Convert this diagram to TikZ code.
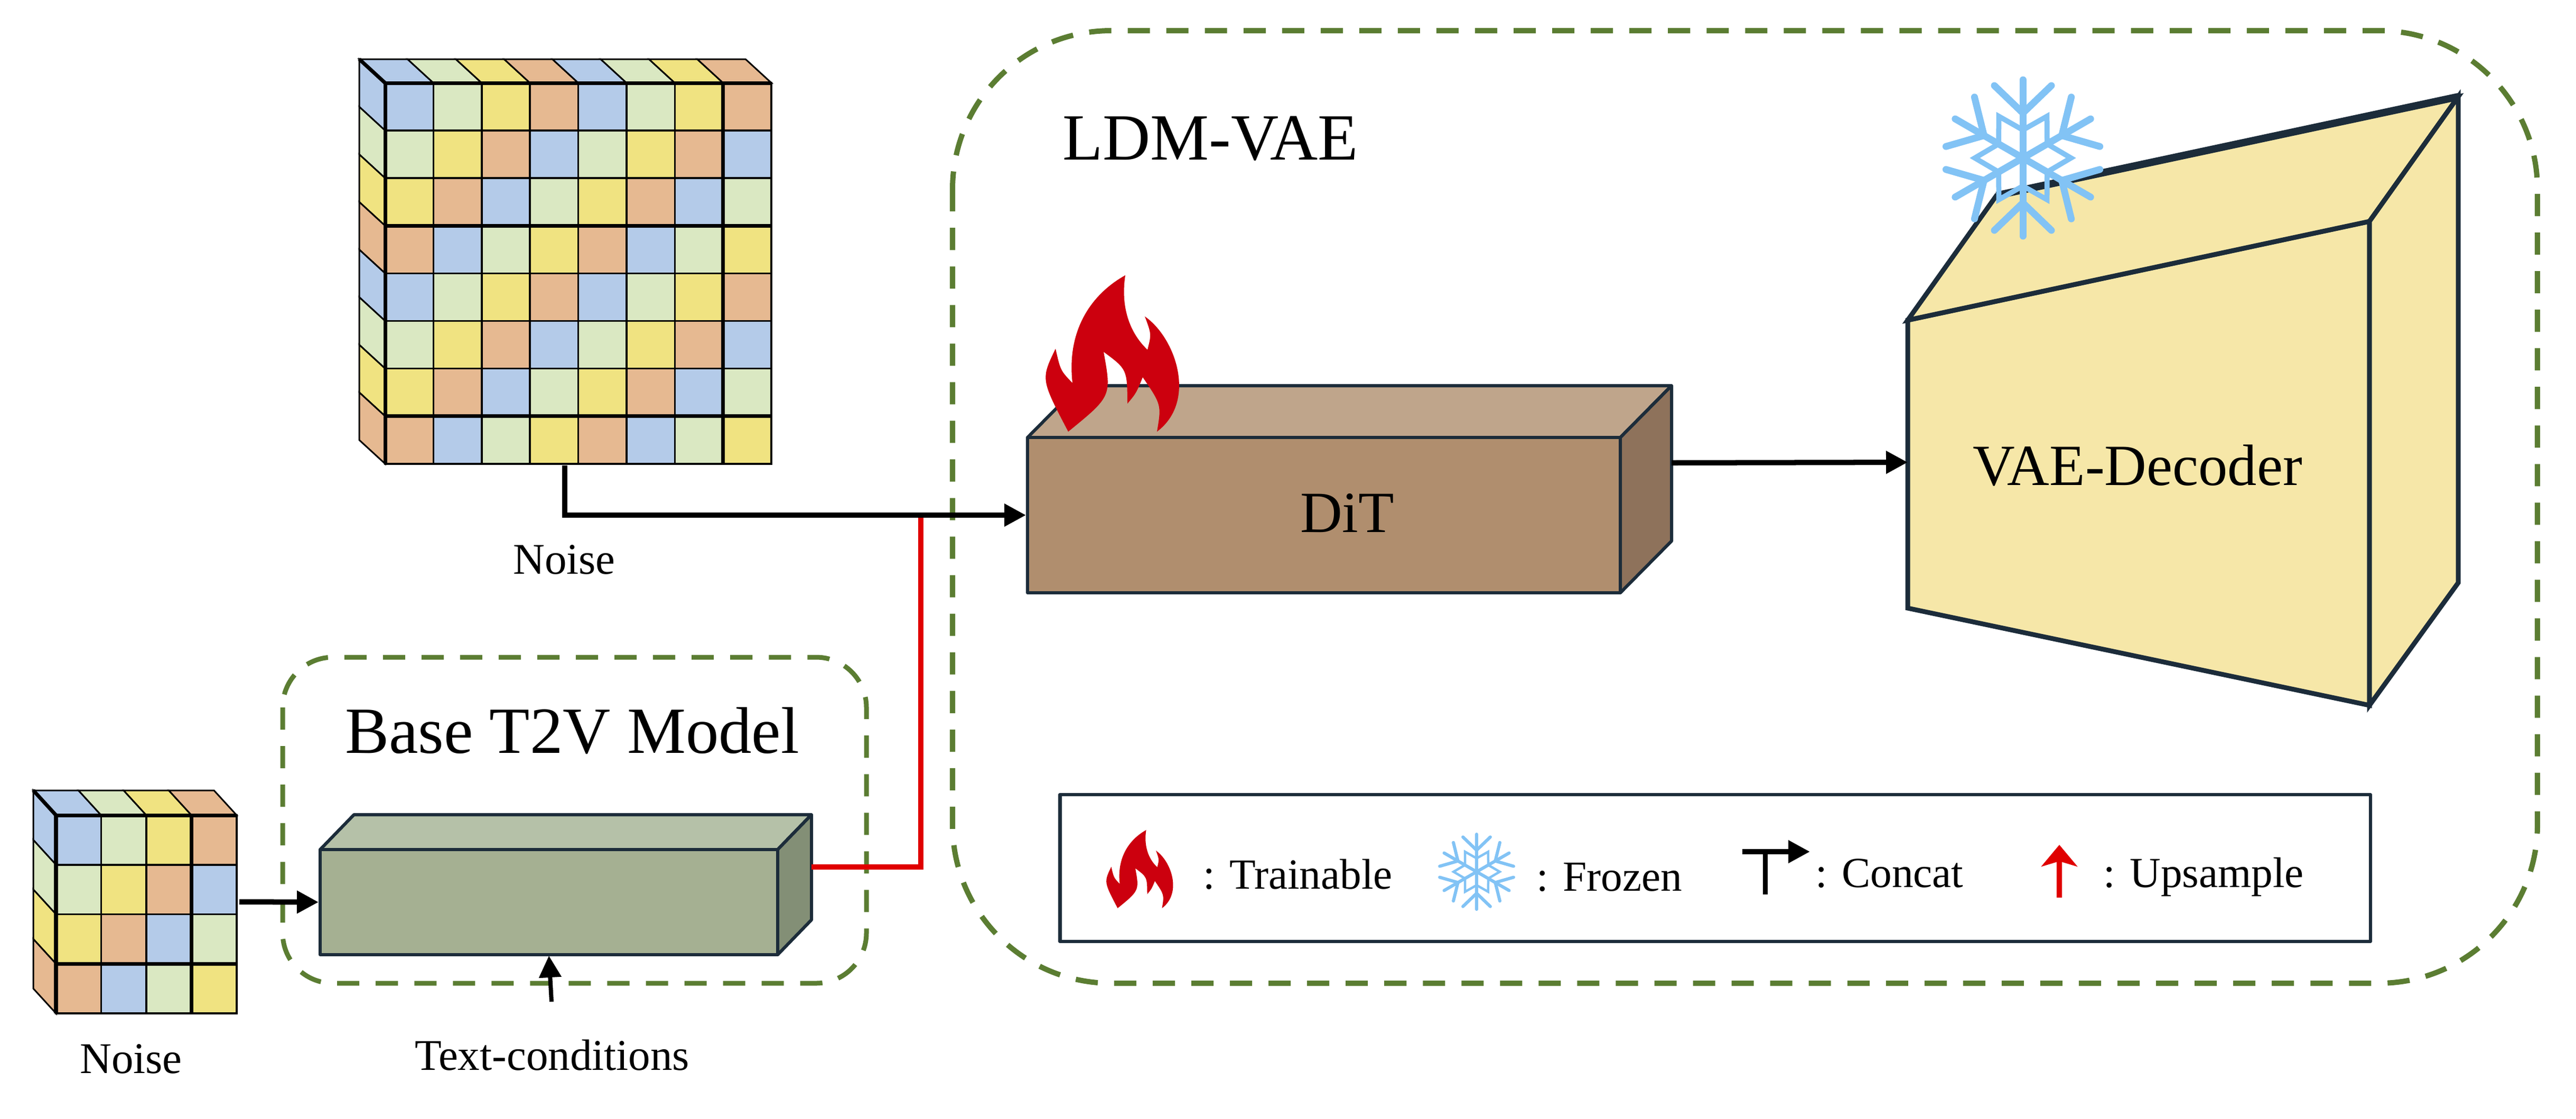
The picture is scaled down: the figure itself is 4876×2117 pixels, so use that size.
\documentclass[tikz,border=0pt]{standalone}
\usepackage{fontspec}
\setmainfont{Liberation Serif}
\usetikzlibrary{arrows.meta}
\definecolor{cellA}{HTML}{B4CBE9}
\definecolor{cellB}{HTML}{DAE8C2}
\definecolor{cellC}{HTML}{F0E381}
\definecolor{cellD}{HTML}{E6B991}
\definecolor{ditF}{HTML}{B08E6E}
\definecolor{ditT}{HTML}{BFA58B}
\definecolor{ditS}{HTML}{8E725B}
\definecolor{baseF}{HTML}{A5B092}
\definecolor{baseT}{HTML}{B5C1A8}
\definecolor{baseS}{HTML}{838F76}
\definecolor{vaeF}{HTML}{F6E7A8}
\definecolor{edgeC}{HTML}{1C2C3A}
\definecolor{dashC}{HTML}{5B7D32}
\definecolor{flameC}{HTML}{CC000E}
\definecolor{snowC}{HTML}{82C3F5}
\definecolor{redC}{HTML}{E00000}
\tikzset{x=0.01cm,y=-0.01cm,
	 group/.style={draw=dashC,line width=0.1cm,dash pattern=on 0.42cm off 0.31cm},
	 edge3d/.style={draw=edgeC,line width=0.06cm,line join=round},
	 vaeface/.style={draw=edgeC,line width=0.09cm,line join=miter,fill=vaeF},
	 conn/.style={black,line width=0.1cm,-{Triangle[length=0.41cm,width=0.41cm]}},
	 upconn/.style={redC,line width=0.1cm},
	 hugelbl/.style={font=\fontsize{35.5}{40}\selectfont,anchor=base,inner sep=0pt},
	 biglbl/.style={font=\fontsize{31.4}{36}\selectfont,anchor=base,inner sep=0pt},
	 smalllbl/.style={font=\fontsize{23.6}{28}\selectfont,anchor=base,inner sep=0pt},
	 leglbl/.style={font=\fontsize{23.1}{28}\selectfont,anchor=base west,inner sep=0pt},
	 flame/.pic={
		\fill[flameC] (-85,148) .. controls (-137,48.8) .. (-109,-9)
			.. controls (-99.7,32.2) .. (-77,56)
			.. controls (-88,-40) and (-45,-110) .. (23,-148)
			.. controls (14,-90) and (30,-40) .. (65,-7)
			.. controls (72.5,-36.5) .. (60,-70)
			.. controls (118,-30) and (160,90) .. (83,148)
			.. controls (91.5,97.2) .. (56,45)
			.. controls (43.5,75.3) .. (27,95)
			.. controls (26.5,30) .. (-18,-3)
			.. controls (-2.8,81) .. (-85,148) -- cycle;
	 },
	 snowflake/.pic={
		\foreach \a in {30,90,...,330} {
			\begin{scope}[rotate=\a,snowC,line width=#1,line cap=round]
				\draw (0,0) -- (148,0);
				\draw (85,0) -- (137,54);
				\draw (85,0) -- (137,-54);
				\draw[line cap=butt,line join=miter,line width=0.75*#1] (0:53) -- (30:91) -- (60:53);
			\end{scope}
		}
	 }
	 }
% colored grid with its depth faces: name, left, top, cell w, cell h, cells, depth x, depth y
\newcommand{\noisecube}[8]{
	\foreach \r in {1,...,#6} {
		\pgfmathtruncatemacro{\m}{mod(\r-1,4)}
		\ifcase\m \def\cc{cellA}\or \def\cc{cellB}\or \def\cc{cellC}\or \def\cc{cellD}\fi
		\pgfmathsetmacro{\yy}{#3+(\r-1)*#5}
		\draw[fill=\cc,line width=0.03cm] (#2,\yy) -- ++(#7,#8) -- ++(0,#5) -- ++(-#7,-#8) -- cycle;
		\pgfmathsetmacro{\xx}{#2+(\r-1)*#4}
		\draw[fill=\cc,line width=0.03cm] (\xx,#3) -- ++(#7,#8) -- ++(#4,0) -- ++(-#7,-#8) -- cycle;
		\foreach \c in {1,...,#6} {
			\pgfmathtruncatemacro{\m}{mod(\r+\c-2,4)}
			\ifcase\m \def\cc{cellA}\or \def\cc{cellB}\or \def\cc{cellC}\or \def\cc{cellD}\fi
			\pgfmathsetmacro{\xx}{#2+(\c-1)*#4}
			\draw[fill=\cc,line width=0.035cm] (\xx,\yy) rectangle ++(#4,#5);
		}
	}
	\foreach \r in {0,...,#6} {
		\pgfmathtruncatemacro{\m}{mod(\r,4)}
		\ifnum\r=0 \def\m{3}\fi
		\ifnum\r=#6 \def\m{0}\fi
		\ifnum\m=3 \draw[line width=0.07cm] (#2,#3+\r*#5) -- ++(#6*#4,0); \fi
	}
	\draw[line width=0.07cm] (#2,#3) -- ++(0,#6*#5);
	\draw[line width=0.07cm] (#2+#6*#4-#4,#3) -- ++(0,#6*#5);
	\draw[line width=0.07cm] (#2,#3) -- ++(#7,#8);
	\node[inner sep=0pt,minimum width={#6*#4*0.01cm},minimum height={#6*#5*0.01cm}] (#1) at (#2+#6*#4/2,#3+#6*#5/2) {};
}
% box with front node: name, left, top, right, bottom, depth x, depth y, color prefix
\newcommand{\cuboid}[8]{
	\draw[edge3d,fill=#8T] (#2,#3) -- ++(#6,-#7) -- (#4+#6,#3-#7) -- (#4,#3) -- cycle;
	\draw[edge3d,fill=#8S] (#4,#3) -- (#4+#6,#3-#7) -- (#4+#6,#5-#7) -- (#4,#5) -- cycle;
	\node[edge3d,fill=#8F,inner sep=0pt,minimum width={(#4-#2)*0.01cm},minimum height={(#5-#3)*0.01cm}] (#1) at ({(#2+#4)/2},{(#3+#5)/2}) {};
}
\begin{document}
\begin{tikzpicture} % noise through base model and DiT into the VAE decoder
	\useasboundingbox (0,0) rectangle (4876,2117);
	\draw[group,rounded corners=3cm] (1803,58) rectangle (4803,1861);
	\draw[group,line width=0.09cm,rounded corners=0.95cm] (535,1244) rectangle (1640,1861);
	\node[hugelbl] (ldmlbl) at (2291,302) {LDM-VAE};
	\node[hugelbl] (baselbl) at (1083,1425) {Base T2V Model};

	\noisecube{noiseA}{729}{157}{91.4}{90.1}{8}{-49}{-45}
	\noisecube{noiseB}{106}{1543}{85.5}{93.75}{4}{-43}{-47}
	\node[smalllbl] (noiseAlbl) at (1068,1086) {Noise};
	\node[smalllbl] (noiseBlbl) at (248,2031) {Noise};

	\cuboid{base}{606}{1608}{1472}{1807}{64}{66}{base}
	\cuboid{dit}{1945}{828}{3067}{1122}{97}{98}{dit}
	\node[biglbl] (ditlbl) at (2550,1007) {DiT};

	% decoder faces
	\coordinate (vaeA) at (3611,606);
	\coordinate (vaeB) at (4485,419);
	\coordinate (vaeC) at (4485,1335);
	\coordinate (vaeD) at (3611,1151);
	\coordinate (vaeE) at (3779,370);
	\coordinate (vaeF) at (4653,183);
	\coordinate (vaeG) at (4653,1103);
	\draw[vaeface] (vaeA) -- (vaeB) -- (vaeC) -- (vaeD) -- cycle;
	\draw[vaeface] (vaeA) -- (vaeE) -- (vaeF) -- (vaeB) -- cycle;
	\draw[vaeface] (vaeB) -- (vaeF) -- (vaeG) -- (vaeC) -- cycle;
	\draw[edgeC,line width=0.14cm] (vaeE) -- (vaeF);
	\node[biglbl] (vaelbl) at (4046,918) {VAE-Decoder};

	% connectors
	\coordinate (baseout) at (1536,1641);
	\coordinate (upjoin) at (1743,976);
	\draw[upconn] (baseout) -| (upjoin);
	\coordinate (noisedrop) at (1069,881);
	\draw[conn] (noisedrop) |- (dit.west);
	\coordinate (noisestart) at (453,1707);
	\draw[conn] (noisestart) -- (base.west);
	\coordinate (ditout) at (3164,876);
	\coordinate (vaein) at (3611,875);
	\draw[conn] (ditout) -- (vaein);
	\node[smalllbl] (textlbl) at (1045,2025) {Text-conditions};
	\coordinate (textstart) at (1044,1896);
	\coordinate (textend) at (1039,1809);
	\draw[conn,line width=0.08cm] (textstart) -- (textend);

	\pic at (2107,669) {flame};
	\pic at (3829,299) {snowflake=0.13cm};

	% legend
	\node[edge3d,line width=0.065cm,inner sep=0pt,minimum width=24.79cm,minimum height=2.78cm] (legend) at (3246.5,1643) {};
	\pic[scale=0.5] at (2158,1645) {flame};
	\node[leglbl] (trainlbl) at (2277,1682) {: Trainable};
	\pic[scale=0.48] at (2795,1650) {snowflake=0.06cm};
	\node[leglbl] (frozenlbl) at (2908,1686) {: Frozen};
	\coordinate (concatA) at (3341,1693);
	\coordinate (concatB) at (3341,1612);
	\coordinate (concatC) at (3426,1612);
	\draw[black,line width=0.09cm] (concatA) -- (concatB);
	\draw[conn] ([xshift=-0.43cm]concatB) -- (concatC);
	\node[leglbl] (concatlbl) at (3436,1679) {: Concat};
	\coordinate (upA) at (3898,1699);
	\coordinate (upB) at (3898,1599);
	\draw[upconn,-{Stealth[length=0.41cm,width=0.68cm,inset=0.1cm]}] (upA) -- (upB);
	\node[leglbl] (uplbl) at (3981,1679) {: Upsample};
\end{tikzpicture}
\end{document}
